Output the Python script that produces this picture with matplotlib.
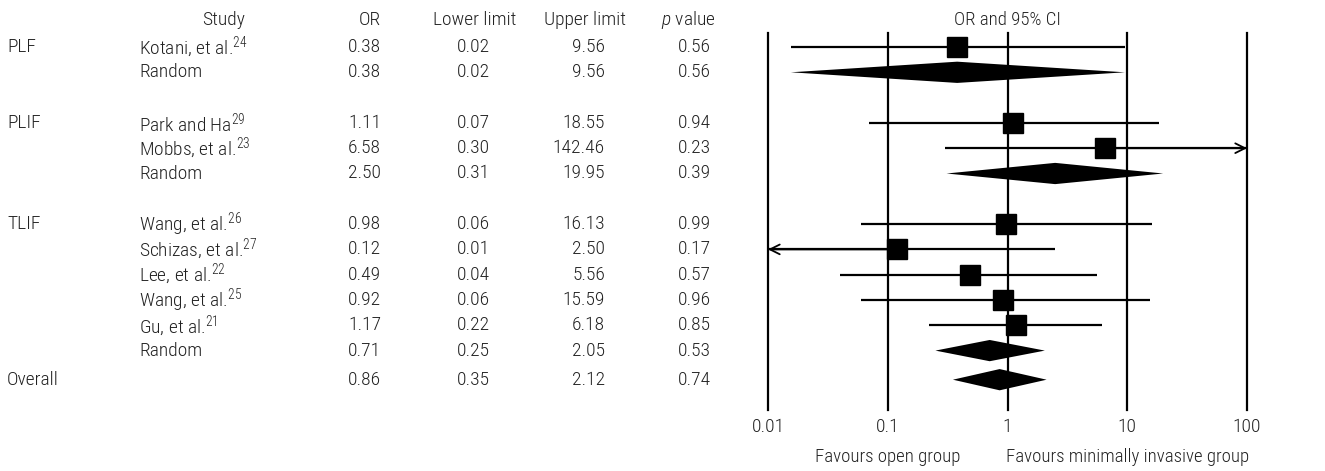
import matplotlib
matplotlib.use("Agg")
import matplotlib.pyplot as plt
import matplotlib.transforms as mtransforms

# === DATA ===
groups = ["PLF", "", "PLIF", "", "", "TLIF", "", "", "", "", "", "Overall"]
studies = ["Kotani, et al.$^{24}$", "Random",
           "Park and Ha$^{29}$", "Mobbs, et al.$^{23}$", "Random",
           "Wang, et al.$^{26}$", "Schizas, et al.$^{27}$", "Lee, et al.$^{22}$",
           "Wang, et al.$^{25}$", "Gu, et al.$^{21}$", "Random", ""]
odds = [0.38, 0.38, 1.11, 6.58, 2.50, 0.98, 0.12, 0.49, 0.92, 1.17, 0.71, 0.86]
lower = [0.0155, 0.0155, 0.07, 0.30, 0.31, 0.06, 0.01, 0.04, 0.06, 0.22, 0.25, 0.35]
upper = [9.56, 9.56, 18.55, 142.46, 19.95, 16.13, 2.50, 5.56, 15.59, 6.18, 2.05, 2.12]
pvals = [0.56, 0.56, 0.94, 0.23, 0.39, 0.99, 0.17, 0.57, 0.96, 0.85, 0.53, 0.74]
pooled = [False, True, False, False, True, False, False, False, False, False, True, True]
xticks = [0.01, 0.1, 1, 10, 100]
xticklabels = ["0.01", "0.1", "1", "10", "100"]

# === STYLE ===
plt.rcParams["font.family"] = ["Roboto Condensed", "DejaVu Sans"]
plt.rcParams["font.weight"] = 300
plt.rcParams["mathtext.fontset"] = "custom"
plt.rcParams["mathtext.rm"] = "Roboto Condensed:light"
plt.rcParams["mathtext.it"] = "Roboto Condensed:italic:light"
plt.rcParams["mathtext.default"] = "regular"
FS = 14        # table text
FS_AX = 13.5   # plot labels
TXT = "#222222"

W, H = 1325, 471
ROW0, ROWH = 47, 25.3          # pixel y of first row, row pitch


def row_of(px):
    return (px - ROW0) / ROWH


# row positions (gaps between groups, a bit more before Overall)
rows = [0, 1, 3, 4, 5, 7, 8, 9, 10, 11, 12, 13.15]

fig = plt.figure(figsize=(W / 100, H / 100), dpi=100)

# --- table part ---
tab = fig.add_axes([0, 0, 1, 1])
tab.set_xlim(0, W)
tab.set_ylim(row_of(H), row_of(0))
tab.axis("off")

hy = row_of(20)
tab.text(245, hy, "Study", ha="right", va="center", fontsize=FS, color=TXT)
tab.text(381, hy, "OR", ha="right", va="center", fontsize=FS, color=TXT)
tab.text(475, hy, "Lower limit", ha="center", va="center", fontsize=FS, color=TXT)
tab.text(585, hy, "Upper limit", ha="center", va="center", fontsize=FS, color=TXT)
tab.text(688, hy, r"$\mathit{p}$ value", ha="center", va="center", fontsize=FS, color=TXT)

for i, y in enumerate(rows):
    if groups[i]:
        tab.text(7, y, groups[i], ha="left", va="center", fontsize=FS, color=TXT)
    if studies[i]:
        tab.text(139, y, studies[i], ha="left", va="center", fontsize=FS, color=TXT)
    tab.text(381, y, f"{odds[i]:.2f}", ha="right", va="center", fontsize=FS, color=TXT)
    tab.text(490, y, f"{lower[i]:.2f}", ha="right", va="center", fontsize=FS, color=TXT)
    tab.text(605, y, f"{upper[i]:.2f}", ha="right", va="center", fontsize=FS, color=TXT)
    tab.text(711, y, f"{pvals[i]:.2f}", ha="right", va="center", fontsize=FS, color=TXT)

# --- forest plot ---
x0, x1, ytop, ybot = 768, 1247, 33, 410
ax = fig.add_axes([x0 / W, (H - ybot) / H, (x1 - x0) / W, (ybot - ytop) / H])
ax.set_xscale("log")
ax.set_xlim(xticks[0], xticks[-1])
ax.set_ylim(row_of(ybot), row_of(ytop))
for s in ax.spines.values():
    s.set_visible(False)
ax.set_yticks([])
ax.set_xticks(xticks)
ax.set_xticklabels(xticklabels)
ax.minorticks_off()
ax.tick_params(axis="x", length=0, pad=6, labelsize=FS, labelcolor=TXT)

for xv in xticks:
    ax.axvline(xv, color="black", lw=1.6, clip_on=False)

xmin, xmax = xticks[0], xticks[-1]
arrow = dict(arrowstyle="->,head_length=0.7,head_width=0.35",
             lw=1.3, color="black", shrinkA=0, shrinkB=0)
for i, y in enumerate(rows):
    o, lo, hi = odds[i], lower[i], upper[i]
    if pooled[i]:
        h = 0.42
        ax.fill([max(lo, xmin), o, min(hi, xmax), o], [y, y - h, y, y + h],
                color="black", lw=0)
        continue
    a, b = max(lo, xmin), min(hi, xmax)
    ax.plot([a, b], [y, y], color="black", lw=1.6, solid_capstyle="butt")
    if hi > xmax:
        ax.annotate("", xy=(xmax, y), xytext=(o, y), arrowprops=arrow)
    if lo <= xmin:
        ax.annotate("", xy=(xmin, y), xytext=(o, y), arrowprops=arrow)
    ax.plot([o], [y], marker="s", ms=14.5, color="black", mec="black", zorder=3)

trans = mtransforms.blended_transform_factory(ax.transData, ax.transAxes)
ax.text(1, (ybot - 20) / (ybot - ytop), "OR and 95% CI", transform=trans,
        ha="center", va="center", fontsize=FS_AX, color=TXT)
fy = (ybot - 457) / (ybot - ytop)
ax.text(0.1, fy, "Favours open group", transform=trans,
        ha="center", va="center", fontsize=FS_AX, color=TXT)
ax.text(10, fy, "Favours minimally invasive group", transform=trans,
        ha="center", va="center", fontsize=FS_AX, color=TXT)

fig.savefig("out.png", dpi=100, facecolor="white")
